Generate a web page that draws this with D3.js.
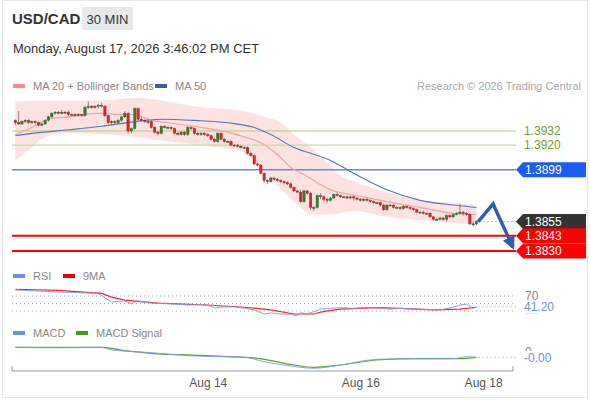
<!DOCTYPE html>
<html>
<head>
<meta charset="utf-8">
<script src="https://cdn.jsdelivr.net/npm/d3@7/dist/d3.min.js"></script>
<style>
  body { margin: 0; background: #fff; }
  text { font-family: "Liberation Sans", Arial, sans-serif; }
</style>
</head>
<body>
<script>
// 30 min candles, [open, high, low, close]
const candles = [
  [1.3941, 1.3942, 1.3937, 1.3939], [1.3939, 1.3949, 1.3937, 1.3938], [1.3938, 1.3941, 1.3937, 1.394],
  [1.394, 1.3942, 1.3939, 1.3941], [1.3941, 1.3942, 1.3938, 1.3939], [1.3939, 1.3941, 1.3938, 1.394],
  [1.394, 1.3941, 1.3938, 1.3939], [1.3939, 1.394, 1.3936, 1.3937], [1.3937, 1.3939, 1.3936, 1.3938],
  [1.3938, 1.3942, 1.3937, 1.3941], [1.3941, 1.3945, 1.394, 1.3944], [1.3944, 1.3948, 1.3943, 1.3947],
  [1.3947, 1.3949, 1.3946, 1.3948], [1.3948, 1.3949, 1.3946, 1.3947], [1.3947, 1.395, 1.3946, 1.3948],
  [1.3948, 1.3949, 1.3947, 1.3947], [1.3948, 1.3949, 1.3945, 1.3946], [1.3946, 1.3947, 1.3945, 1.3946],
  [1.3946, 1.3947, 1.3944, 1.3945], [1.3945, 1.3947, 1.3944, 1.3946], [1.3946, 1.3946, 1.3944, 1.3945],
  [1.3945, 1.3953, 1.3944, 1.3952], [1.3952, 1.3957, 1.3951, 1.3953], [1.3953, 1.3954, 1.3951, 1.3952],
  [1.3952, 1.3954, 1.3951, 1.3953], [1.3953, 1.3955, 1.3951, 1.3954], [1.3954, 1.3956, 1.3952, 1.3953],
  [1.3953, 1.3954, 1.3944, 1.3945], [1.3945, 1.3946, 1.3938, 1.3939], [1.3939, 1.3941, 1.3937, 1.394],
  [1.394, 1.3941, 1.3938, 1.3939], [1.3939, 1.3942, 1.3938, 1.3941], [1.3941, 1.3945, 1.394, 1.3944],
  [1.3944, 1.3949, 1.3943, 1.3947], [1.3947, 1.3948, 1.393, 1.3932], [1.3932, 1.3935, 1.393, 1.3934],
  [1.3934, 1.3952, 1.3933, 1.3951], [1.3951, 1.3952, 1.3941, 1.3942], [1.3942, 1.3944, 1.394, 1.3941],
  [1.3941, 1.3942, 1.3939, 1.394], [1.394, 1.3942, 1.3938, 1.394], [1.394, 1.3941, 1.3934, 1.3935],
  [1.3935, 1.3936, 1.393, 1.3931], [1.3931, 1.3932, 1.3928, 1.393], [1.393, 1.3937, 1.3929, 1.3936],
  [1.3936, 1.3937, 1.3934, 1.3935], [1.3935, 1.3936, 1.3934, 1.3935], [1.3935, 1.3936, 1.3933, 1.3934],
  [1.3934, 1.3935, 1.3929, 1.393], [1.393, 1.3931, 1.3928, 1.3929], [1.3929, 1.3932, 1.3928, 1.3931],
  [1.3931, 1.3932, 1.3928, 1.3929], [1.3929, 1.3936, 1.3928, 1.3935], [1.3935, 1.3936, 1.3933, 1.3934],
  [1.3934, 1.3935, 1.3929, 1.393], [1.393, 1.3931, 1.3928, 1.3929], [1.3929, 1.3931, 1.3928, 1.393],
  [1.393, 1.3931, 1.3928, 1.3929], [1.3929, 1.393, 1.3927, 1.3928], [1.3928, 1.3929, 1.3924, 1.3925],
  [1.3925, 1.3926, 1.3922, 1.3923], [1.3923, 1.3931, 1.3922, 1.393], [1.393, 1.3931, 1.3924, 1.3925],
  [1.3925, 1.3926, 1.3922, 1.3923], [1.3923, 1.3924, 1.3922, 1.3923], [1.3923, 1.3924, 1.3919, 1.392],
  [1.392, 1.3921, 1.3919, 1.392], [1.392, 1.3921, 1.3918, 1.3919], [1.3919, 1.392, 1.3917, 1.3918],
  [1.3918, 1.3919, 1.3917, 1.3918], [1.3918, 1.3919, 1.3912, 1.3913], [1.3913, 1.3914, 1.391, 1.3911],
  [1.3911, 1.3912, 1.3903, 1.3904], [1.3904, 1.3905, 1.3902, 1.3903], [1.3903, 1.3904, 1.3895, 1.3896],
  [1.3896, 1.3897, 1.3888, 1.389], [1.389, 1.3891, 1.3887, 1.3889], [1.3889, 1.3893, 1.3888, 1.3892],
  [1.3892, 1.3893, 1.389, 1.3891], [1.3891, 1.3892, 1.3889, 1.389], [1.389, 1.3891, 1.3888, 1.3889],
  [1.3889, 1.389, 1.3887, 1.3888], [1.3888, 1.3889, 1.3886, 1.3887], [1.3887, 1.3888, 1.3883, 1.3884],
  [1.3884, 1.3885, 1.388, 1.3881], [1.3881, 1.3882, 1.3879, 1.388], [1.388, 1.3882, 1.3871, 1.3872],
  [1.3872, 1.3882, 1.3871, 1.3881], [1.3881, 1.3882, 1.3878, 1.3879], [1.3879, 1.388, 1.3865, 1.3867],
  [1.3867, 1.3868, 1.3864, 1.3867], [1.3867, 1.3878, 1.3866, 1.3877], [1.3877, 1.3879, 1.3874, 1.3876],
  [1.3876, 1.3877, 1.3872, 1.3874], [1.3874, 1.3875, 1.3871, 1.3873], [1.3873, 1.3876, 1.3872, 1.3875],
  [1.3875, 1.3879, 1.3874, 1.3878], [1.3878, 1.388, 1.3876, 1.3877], [1.3877, 1.3878, 1.3875, 1.3876],
  [1.3876, 1.3877, 1.3875, 1.3876], [1.3876, 1.3877, 1.3874, 1.3875], [1.3875, 1.3877, 1.3874, 1.3876],
  [1.3876, 1.3877, 1.3873, 1.3875], [1.3875, 1.3876, 1.3873, 1.3874], [1.3874, 1.3875, 1.3872, 1.3873],
  [1.3873, 1.3875, 1.3872, 1.3874], [1.3874, 1.3875, 1.3872, 1.3873], [1.3873, 1.3874, 1.3871, 1.3872],
  [1.3872, 1.3873, 1.387, 1.3871], [1.3871, 1.3872, 1.387, 1.3871], [1.3871, 1.3872, 1.3868, 1.3869],
  [1.3869, 1.387, 1.3864, 1.3865], [1.3865, 1.387, 1.3864, 1.3869], [1.3869, 1.387, 1.3868, 1.3869],
  [1.3869, 1.387, 1.3866, 1.3867], [1.3867, 1.3868, 1.3866, 1.3867], [1.3867, 1.3868, 1.3865, 1.3866],
  [1.3866, 1.3869, 1.3865, 1.3868], [1.3868, 1.3869, 1.3866, 1.3867], [1.3867, 1.3868, 1.3865, 1.3866],
  [1.3866, 1.3867, 1.3864, 1.3865], [1.3865, 1.3866, 1.3862, 1.3863], [1.3863, 1.3864, 1.3862, 1.3863],
  [1.3863, 1.3864, 1.3861, 1.3862], [1.3862, 1.3863, 1.3861, 1.3862], [1.3862, 1.3863, 1.3858, 1.3859],
  [1.3859, 1.386, 1.3856, 1.3857], [1.3857, 1.3858, 1.3856, 1.3857], [1.3857, 1.3859, 1.3856, 1.3858],
  [1.3858, 1.3859, 1.3856, 1.3857], [1.3857, 1.3861, 1.3855, 1.386], [1.386, 1.3861, 1.3858, 1.3859],
  [1.3859, 1.3862, 1.3858, 1.3861], [1.3861, 1.3863, 1.386, 1.3862], [1.3862, 1.387, 1.3861, 1.3863],
  [1.3863, 1.3864, 1.386, 1.3862], [1.3862, 1.3863, 1.386, 1.3861], [1.3861, 1.3862, 1.3852, 1.3853],
  [1.3853, 1.3855, 1.3851, 1.3853], [1.3853, 1.3856, 1.3852, 1.3855]
];

// indicators as [candle index, value]
const ma20 = [[0, 1.3929], [5, 1.3935], [10, 1.3942], [16, 1.3944], [20, 1.3946], [26, 1.3947], [31, 1.3946],
  [36, 1.3946], [41, 1.3941], [46, 1.3939], [56, 1.3935], [64, 1.3931], [69, 1.3927], [74, 1.3922], [79, 1.3912],
  [83, 1.3901], [87, 1.3895], [91, 1.3888], [95, 1.3882], [99, 1.3879], [105, 1.3876], [112, 1.3872],
  [122, 1.3867], [132, 1.3862], [139, 1.3861]];
const ma50 = [[0, 1.3928], [5, 1.393], [16, 1.3933], [26, 1.3936], [36, 1.394], [44, 1.3942], [54, 1.3941],
  [64, 1.3939], [72, 1.3935], [77, 1.3929], [84, 1.3918], [89, 1.3913], [95, 1.3907], [102, 1.3896],
  [112, 1.3882], [122, 1.3873], [132, 1.3869], [139, 1.3867]];
const bbUpper = [[0, 1.3957], [10, 1.3958], [26, 1.3958], [36, 1.396], [44, 1.3958], [54, 1.3953], [69, 1.3949],
  [74, 1.3945], [80, 1.3939], [84, 1.3929], [89, 1.3918], [94, 1.3905], [98, 1.3894], [103, 1.3888],
  [112, 1.388], [122, 1.3873], [132, 1.3871], [139, 1.3869]];
const bbLower = [[0, 1.3907], [5, 1.3918], [9, 1.3927], [16, 1.393], [28, 1.3929], [44, 1.3924], [58, 1.3919],
  [68, 1.3915], [72, 1.3907], [76, 1.3894], [81, 1.388], [86, 1.3867], [89, 1.3861], [95, 1.3861],
  [102, 1.3864], [112, 1.3859], [122, 1.3856], [132, 1.3854], [139, 1.3852]];

const rsi = [[0, 86], [7, 83], [18, 79], [25, 77], [27, 65], [29, 54], [31, 55], [33, 57], [35, 49], [37, 57],
  [39, 53], [41, 51], [47, 49], [52, 46], [56, 47], [59, 43], [60, 38], [63, 41], [66, 41], [69, 37], [72, 33],
  [75, 22], [77, 25], [80, 22], [83, 21], [85, 17], [86, 25], [88, 23], [90, 28], [92, 35], [95, 37], [98, 39],
  [102, 37], [105, 39], [109, 39], [113, 35], [116, 37], [121, 35], [125, 34], [128, 33], [131, 38], [134, 46],
  [136, 48], [138, 37], [139, 41.2]];
const rsiMa = [[0, 88], [13, 85], [26, 77], [29, 67], [33, 59], [43, 51], [58, 46], [69, 40], [77, 33], [84, 22],
  [90, 22], [93, 29], [98, 35], [109, 39], [116, 37], [126, 33], [134, 35], [139, 40]];
const macd = [[0, 0.00047], [13, 0.00042], [26, 0.00047], [29, 0.0002], [33, 0.0001], [41, -0.00007],
  [52, -0.00037], [69, -0.00053], [75, -0.00097], [83, -0.0014], [90, -0.00163], [98, -0.0013],
  [109, -0.00073], [121, -0.00067], [132, -0.00067], [136, -0.00047], [139, -0.00053]];
const macdSignal = [[0, 0.00047], [26, 0.00047], [33, 0.00013], [41, -0.00013], [58, -0.00037],
  [73, -0.00063], [84, -0.0013], [90, -0.00153], [98, -0.0013], [109, -0.0008], [121, -0.00067],
  [134, -0.00067], [139, -0.00053]];

// projected path drawn as the arrow
const projection = [[139.5, 1.3855], [144, 1.387], [150, 1.3833]];

const resistances = [1.3932, 1.392];
const pivot = 1.3899;
const supports = [1.3843, 1.383];
const lastPrice = 1.3855;

const xTicks = [58, 104, 141];
const xTickLabels = ["Aug 14", "Aug 16", "Aug 18"];
const rsiLevels = [70, 50, 30];

const W = 590, H = 400;
const left = 12, right = 513, tagX = 516;

const svg = d3.select("body").append("svg").attr("width", W).attr("height", H);

//Card frame
svg.append("rect").attr("x", 2.5).attr("y", 0.5).attr("width", 585).attr("height", 397)
  .attr("fill", "#fff").attr("stroke", "#e6e8ea");

//Header
svg.append("text").attr("x", 12).attr("y", 19).attr("dy", "0.35em")
  .attr("font-size", 15).attr("font-weight", "bold").attr("fill", "#333").text("USD/CAD");
svg.append("rect").attr("x", 82).attr("y", 7).attr("width", 51).attr("height", 23).attr("fill", "#e8e9eb");
svg.append("text").attr("x", 107.5).attr("y", 19).attr("dy", "0.35em").attr("text-anchor", "middle")
  .attr("font-size", 13).attr("fill", "#333").text("30 MIN");
svg.append("text").attr("x", 13).attr("y", 48).attr("dy", "0.35em")
  .attr("font-size", 13).attr("fill", "#333").text("Monday, August 17, 2026 3:46:02 PM CET");

//Legends
function legend(items, y) {
  items.forEach(it => {
    svg.append("rect").attr("x", it.x).attr("y", y - 2).attr("width", 12).attr("height", 4).attr("fill", it.color);
    svg.append("text").attr("x", it.x + 20).attr("y", y).attr("dy", "0.35em")
      .attr("font-size", 11).attr("fill", "#888").text(it.label);
  });
}
legend([{ x: 13, color: "#f88", label: "MA 20 + Bollinger Bands" }, { x: 155, color: "#3b5ea6", label: "MA 50" }], 86);
svg.append("text").attr("x", 581).attr("y", 86).attr("dy", "0.35em").attr("text-anchor", "end")
  .attr("font-size", 11).attr("fill", "#aaa").text("Research \u00a9 2026 Trading Central");
legend([{ x: 13, color: "#6d8fe6", label: "RSI" }, { x: 63, color: "#e00", label: "9MA" }], 276);
legend([{ x: 13, color: "#6d8fe6", label: "MACD" }, { x: 76, color: "#4a9a1a", label: "MACD Signal" }], 333);

//Scales
const x = d3.scaleLinear().domain([-1, 150]).range([left, right]);
const y = d3.scaleLinear().domain([1.3824, 1.39626]).range([258, 95]);
const yRsi = d3.scaleLinear().domain([0, 100]).range([322.25, 284.75]);
const yMacd = d3.scaleLinear().domain([-0.002, 0.001]).range([372, 342]);

const lineOf = (sy, curve) => d3.line().x(d => x(d[0])).y(d => sy(d[1])).curve(curve || d3.curveMonotoneX);

//Bollinger band area
const bandPath = lineOf(y)(bbUpper) + "L" + lineOf(y)(bbLower.slice().reverse()).slice(1) + "Z";
svg.append("path").attr("d", bandPath).attr("fill", "#fde2e2");

//Level lines
resistances.forEach((v, i) => {
  svg.append("line").attr("x1", left).attr("x2", tagX).attr("y1", y(v)).attr("y2", y(v))
    .attr("stroke", i === 0 ? "#a5d07e" : "#c2dea0").attr("stroke-width", 1.2);
  svg.append("text").attr("x", 524).attr("y", y(v)).attr("dy", "0.35em")
    .attr("font-size", 12).attr("fill", "#6ea22c").text(v.toFixed(4));
});
svg.append("line").attr("x1", left).attr("x2", tagX).attr("y1", y(pivot)).attr("y2", y(pivot))
  .attr("stroke", "#5b8de0").attr("stroke-width", 1.5);
supports.forEach(v => {
  svg.append("line").attr("x1", left).attr("x2", tagX).attr("y1", y(v)).attr("y2", y(v))
    .attr("stroke", "#f00").attr("stroke-width", 2);
});

//Moving averages
svg.append("path").attr("d", lineOf(y)(ma20)).attr("fill", "none").attr("stroke", "#f7a3a3").attr("stroke-width", 1.2);
svg.append("path").attr("d", lineOf(y)(ma50)).attr("fill", "none").attr("stroke", "#5675b5").attr("stroke-width", 1.1);

//Candles
const bw = 2.4;
const cg = svg.append("g").selectAll("g").data(candles).enter().append("g");
cg.append("line")
  .attr("x1", (d, i) => x(i)).attr("x2", (d, i) => x(i))
  .attr("y1", d => y(d[1])).attr("y2", d => y(d[2]))
  .attr("stroke", "#6b6b6b").attr("stroke-width", 0.8);
cg.append("rect")
  .attr("x", (d, i) => x(i) - bw / 2)
  .attr("y", d => y(Math.max(d[0], d[3])))
  .attr("width", bw)
  .attr("height", d => Math.max(1, Math.abs(y(d[0]) - y(d[3]))))
  .attr("fill", d => (d[3] >= d[0] ? "#2f7f2f" : "#e3212b"))
  .attr("stroke", d => (d[3] >= d[0] ? "#235f23" : "#a8181f"))
  .attr("stroke-width", 0.4);

//Last price dotted line
svg.append("line").attr("x1", x(candles.length - 1) + 3).attr("x2", tagX)
  .attr("y1", y(lastPrice)).attr("y2", y(lastPrice))
  .attr("stroke", "#888").attr("stroke-dasharray", "1,3");

//Projection arrow
svg.append("defs").append("marker").attr("id", "head")
  .attr("viewBox", "0 0 10 10").attr("refX", 8).attr("refY", 5)
  .attr("markerWidth", 13).attr("markerHeight", 13).attr("markerUnits", "userSpaceOnUse")
  .attr("orient", "auto")
  .append("path").attr("d", "M0,0L10,5L0,10Z").attr("fill", "#2e5fa9");
svg.append("path").attr("d", lineOf(y, d3.curveLinear)(projection))
  .attr("fill", "none").attr("stroke", "#2e5fa9").attr("stroke-width", 3.5)
  .attr("stroke-linejoin", "miter").attr("marker-end", "url(#head)");

//Price tags
function tag(v, fill, sy, label, txt) {
  const yy = sy(v);
  svg.append("path")
    .attr("d", `M${tagX},${yy}L${tagX + 7},${yy - 7.5}L586,${yy - 7.5}L586,${yy + 7.5}L${tagX + 7},${yy + 7.5}Z`)
    .attr("fill", fill);
  svg.append("text").attr("x", 525).attr("y", yy).attr("dy", "0.35em")
    .attr("font-size", 12).attr("fill", txt || "#fff").text(label);
}
tag(pivot, "#1a5cf5", y, pivot.toFixed(4));
tag(lastPrice, "#333", y, lastPrice.toFixed(4));
supports.forEach(v => tag(v, "#f00", y, v.toFixed(4)));

//RSI panel
rsiLevels.forEach(v => {
  svg.append("line").attr("x1", left).attr("x2", tagX).attr("y1", yRsi(v)).attr("y2", yRsi(v))
    .attr("stroke", "#aaa").attr("stroke-dasharray", "1,3");
});
svg.append("clipPath").attr("id", "rsiClip").append("rect").attr("x", 0).attr("y", 285).attr("width", W).attr("height", 29);
svg.append("text").attr("x", 525).attr("y", yRsi(70)).attr("dy", "0.35em")
  .attr("font-size", 12).attr("fill", "#888").text("70");
svg.append("text").attr("x", 525).attr("y", yRsi(30) + 6).attr("dy", "0.35em").attr("clip-path", "url(#rsiClip)")
  .attr("font-size", 12).attr("fill", "#aaa").text("30");
svg.append("path").attr("d", lineOf(yRsi, d3.curveLinear)(rsiMa)).attr("fill", "none").attr("stroke", "#f22").attr("stroke-width", 1.2);
svg.append("path").attr("d", lineOf(yRsi, d3.curveLinear)(rsi)).attr("fill", "none").attr("stroke", "#7d9be8").attr("stroke-width", 0.9);
const rsiLast = rsi[rsi.length - 1];
svg.append("line").attr("x1", x(rsiLast[0]) + 2).attr("x2", tagX).attr("y1", yRsi(rsiLast[1])).attr("y2", yRsi(rsiLast[1]))
  .attr("stroke", "#6d8fe6").attr("stroke-dasharray", "1,3");
svg.append("rect").attr("x", 520).attr("y", yRsi(rsiLast[1]) - 6.5).attr("width", 40).attr("height", 13).attr("fill", "#fff");
svg.append("text").attr("x", 524).attr("y", yRsi(rsiLast[1])).attr("dy", "0.35em")
  .attr("font-size", 12).attr("fill", "#6d8fe6").text(rsiLast[1].toFixed(2));

//MACD panel
svg.append("text").attr("x", 525).attr("y", yMacd(0)).attr("dy", "0.35em")
  .attr("font-size", 12).attr("fill", "#888").text("0");
svg.append("path").attr("d", lineOf(yMacd)(macdSignal)).attr("fill", "none").attr("stroke", "#5aa32a").attr("stroke-width", 1.2);
svg.append("path").attr("d", lineOf(yMacd)(macd)).attr("fill", "none").attr("stroke", "#7d9be8").attr("stroke-width", 0.9);
const macdLast = macd[macd.length - 1];
svg.append("line").attr("x1", x(macdLast[0]) + 2).attr("x2", tagX).attr("y1", yMacd(macdLast[1])).attr("y2", yMacd(macdLast[1]))
  .attr("stroke", "#6d8fe6").attr("stroke-dasharray", "1,3");
svg.append("rect").attr("x", 520).attr("y", yMacd(macdLast[1]) - 6.5).attr("width", 40).attr("height", 13).attr("fill", "#fff");
svg.append("text").attr("x", 524).attr("y", yMacd(macdLast[1])).attr("dy", "0.35em")
  .attr("font-size", 12).attr("fill", "#6d8fe6").text(macdLast[1].toFixed(2));

//X axis
const xAxis = d3.axisBottom(x).tickValues(xTicks).tickFormat((d, i) => xTickLabels[i]).tickSize(0).tickPadding(7);
const xg = svg.append("g").attr("transform", "translate(0,371)").call(xAxis);
xg.select(".domain").attr("stroke", "#999").attr("d", `M${left},-5V0H${right}V-5`);
xg.selectAll("text").attr("font-size", 12).attr("fill", "#555")
  .attr("font-family", '"Liberation Sans", Arial, sans-serif');
</script>
</body>
</html>
